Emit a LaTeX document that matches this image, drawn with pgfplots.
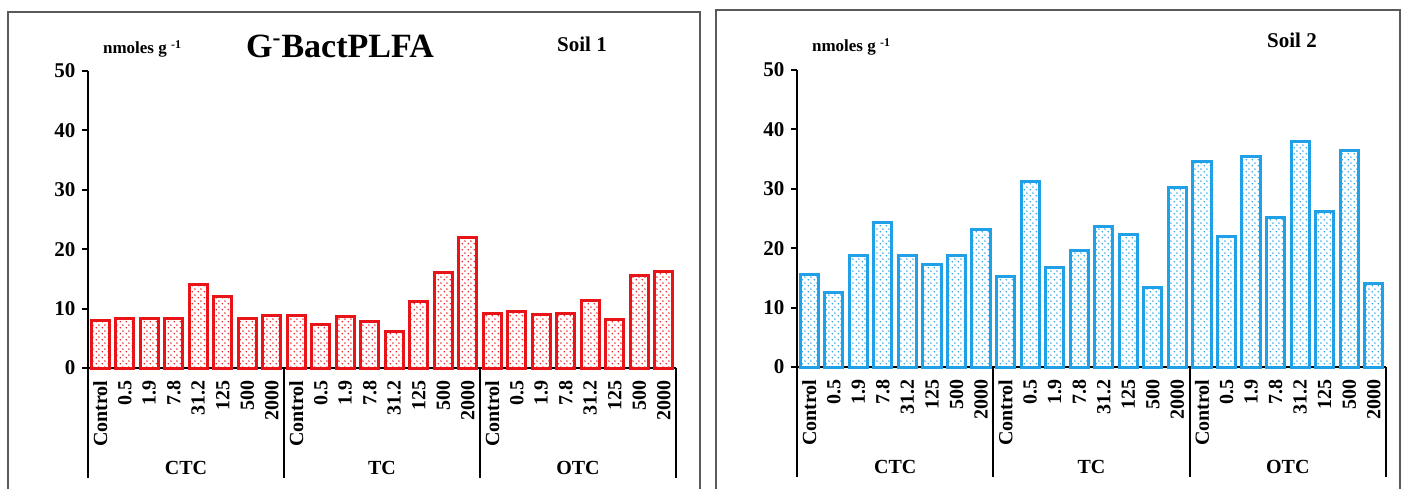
\documentclass[border=0pt]{standalone}
\usepackage{fontspec}
\setmainfont{Liberation Serif}
\usepackage{pgfplots}
\pgfplotsset{compat=1.18}
\usetikzlibrary{patterns.meta}
\definecolor{barred}{RGB}{232,20,24}
\definecolor{barblue}{RGB}{32,160,230}
\definecolor{framegray}{RGB}{90,90,90}
\tikzdeclarepattern{
  name=sdots, type=uncolored,
  bounding box={(0pt,0pt) and (2.8pt,2.8pt)},
  tile size={(2.8pt,2.8pt)},
  code={\fill (0.7pt,0.7pt) circle (0.45pt); \fill (2.1pt,2.1pt) circle (0.45pt);}
}
\pgfplotsset{
  panel/.style={
    scale only axis, width=294pt, height=148.5pt,
    anchor=south west,
    xmin=-0.5, xmax=23.5, ymin=0, ymax=50,
    axis x line=bottom, axis y line=left,
    axis line style={line width=1.1pt,-},
    clip=false,
    ytick={0,10,20,30,40,50},
    ytick align=outside,
    ytick style={line width=1pt, black},
    major tick length=2.8pt,
    yticklabel style={font=\fontsize{10.5}{11}\selectfont\bfseries},
    /pgf/number format/assume math mode=true,
    xtick={0,...,23},
    xtick style={draw=none},
    xticklabels={Control,0.5,1.9,7.8,31.2,125,500,2000,Control,0.5,1.9,7.8,31.2,125,500,2000,Control,0.5,1.9,7.8,31.2,125,500,2000},
    xticklabel style={rotate=90, anchor=east, font=\fontsize{10}{11}\selectfont\bfseries},
    ybar, bar width=0.74, bar shift=0pt,
  }
}
\pgfplotstableread{
x s1 s2
0 8.0 15.6
1 8.4 12.6
2 8.3 18.7
3 8.3 24.4
4 14.1 18.8
5 12.0 17.3
6 8.4 18.7
7 8.9 23.2
8 8.8 15.2
9 7.3 31.3
10 8.7 16.8
11 7.9 19.6
12 6.1 23.6
13 11.2 22.3
14 16.0 13.4
15 22.0 30.3
16 9.2 34.6
17 9.5 22.0
18 9.0 35.4
19 9.2 25.2
20 11.4 37.9
21 8.1 26.2
22 15.5 36.5
23 16.2 14.1
}\datatab
\newcommand{\groupdeco}{%
  \draw[line width=1pt] (axis cs:-0.5,0) -- ([yshift=-55pt]axis cs:-0.5,0);
  \draw[line width=1pt] (axis cs:7.5,0) -- ([yshift=-55pt]axis cs:7.5,0);
  \draw[line width=1pt] (axis cs:15.5,0) -- ([yshift=-55pt]axis cs:15.5,0);
  \draw[line width=1pt] (axis cs:23.5,0) -- ([yshift=-55pt]axis cs:23.5,0);
  \node[font=\fontsize{10}{11}\selectfont\bfseries] at ([yshift=-50pt]axis cs:3.5,0) {CTC};
  \node[font=\fontsize{10}{11}\selectfont\bfseries] at ([yshift=-50pt]axis cs:11.5,0) {TC};
  \node[font=\fontsize{10}{11}\selectfont\bfseries] at ([yshift=-50pt]axis cs:19.5,0) {OTC};
}
\begin{document}
\begin{tikzpicture}
\path[use as bounding box] (0,0) rectangle (704pt,244pt);
\draw[framegray, line width=0.7pt] (4pt,-3pt) rectangle (350pt,238pt);
\draw[framegray, line width=0.7pt] (358pt,-3pt) rectangle (700pt,239pt);
% Soil 1
\begin{axis}[panel, at={(44pt,60pt)}]
\addplot[draw=barred, line width=1.5pt, pattern=sdots, pattern color=barred] table[x=x,y=s1]{\datatab};
\groupdeco
\end{axis}
\node[anchor=base west, font=\fontsize{8.5}{9}\selectfont\bfseries] at (48pt,217pt) {nmoles g \textsuperscript{-1}};
\node[anchor=base, font=\fontsize{17}{18}\selectfont\bfseries] at (170pt,215pt) {G\textsuperscript{-}BactPLFA};
\node[anchor=base, font=\fontsize{10.5}{11}\selectfont\bfseries] at (291pt,218pt) {Soil 1};
% Soil 2
\begin{axis}[panel, at={(398.5pt,60.5pt)}, width=294.5pt]
\addplot[draw=barblue, line width=1.5pt, pattern=sdots, pattern color=barblue] table[x=x,y=s2]{\datatab};
\groupdeco
\end{axis}
\node[anchor=base west, font=\fontsize{8.5}{9}\selectfont\bfseries] at (402.5pt,218pt) {nmoles g \textsuperscript{-1}};
\node[anchor=base, font=\fontsize{10.5}{11}\selectfont\bfseries] at (646pt,220pt) {Soil 2};
\end{tikzpicture}
\end{document}
